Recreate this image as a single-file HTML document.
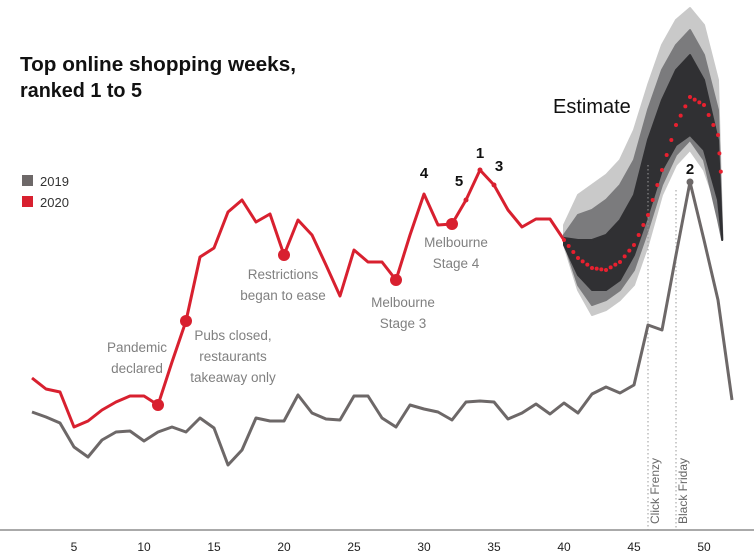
<!DOCTYPE html>
<html><head><meta charset="utf-8"><style>
body{margin:0;background:#fff;font-family:"Liberation Sans",sans-serif}
svg{display:block}
</style></head><body>
<svg id="c" width="754" height="556">
<text x="20" y="71" font-size="20" font-weight="bold" fill="#111" textLength="276" lengthAdjust="spacingAndGlyphs">Top online shopping weeks,</text>
<text x="20" y="97" font-size="20" font-weight="bold" fill="#111" textLength="122" lengthAdjust="spacingAndGlyphs">ranked 1 to 5</text>
<rect x="22" y="175" width="11" height="11" fill="#6d6868"/>
<text x="40" y="186" font-size="13" fill="#333">2019</text>
<rect x="22" y="196" width="11" height="11" fill="#d8202f"/>
<text x="40" y="207" font-size="13" fill="#333">2020</text>
<text x="553" y="113" font-size="20" fill="#111">Estimate</text>
<g id="g"></g>
</svg>
<script>
const weeks2019=[2,3,4,5,6,7,8,9,10,11,12,13,14,15,16,17,18,19,20,21,22,23,24,25,26,27,28,29,30,31,32,33,34,35,36,37,38,39,40,41,42,43,44,45,46,47,48,49,50,51,52];
const values2019=[88,83,77,53,43,60,68,69,59,68,73,68,82,72,35,50,82,79,79,105,87,81,80,104,104,82,73,95,91,88,80,98,99,98,81,87,96,86,97,87,106,113,107,115,175,170,245,318,260,200,100];
const weeks2020=[2,3,4,5,6,7,8,9,10,11,12,13,14,15,16,17,18,19,20,21,22,23,24,25,26,27,28,29,30,31,32,33,34,35,36,37,38,39,40];
const values2020=[122,111,108,73,79,90,98,104,104,95,138,179,243,252,288,300,278,286,245,280,265,235,204,250,238,238,220,265,306,275,276,300,330,315,290,273,281,281,260];
const estWeeks=[40,41,42,43,44,45,46,47,48,49,50,51,51.3];
const estimate=[260,242,232,230,238,255,285,330,375,403,395,365,310];
const outerTop=[275,305,315,325,340,370,415,455,480,492,475,420,270];
const outerBot=[255,210,185,190,200,215,255,305,335,350,330,290,260];
const midTop=[265,285,290,300,315,340,390,430,455,470,445,390,265];
const midBot=[258,215,195,200,210,230,270,315,345,360,340,280,260];
const darkTop=[262,260,260,265,280,305,360,400,430,445,420,360,262];
const darkBot=[255,225,210,210,220,245,285,330,355,365,350,300,260];
const xTicks=[5,10,15,20,25,30,35,40,45,50];
const events=[{w:11,t:["Pandemic","declared"],tx:137,ty:352},{w:13,t:["Pubs closed,","restaurants","takeaway only"],tx:233,ty:340},{w:20,t:["Restrictions","began to ease"],tx:283,ty:279},{w:28,t:["Melbourne","Stage 3"],tx:403,ty:307},{w:32,t:["Melbourne","Stage 4"],tx:456,ty:247}];
const ranks=[{w:30,r:"4",dy:-16},{w:33,r:"5",dy:-14},{w:34,r:"1",dy:-12},{w:35,r:"3",dy:-14}];
const x=w=>74+(w-5)*14, y=v=>500-v;
const g=document.getElementById('g'),NS='http://www.w3.org/2000/svg';
function mk(t,a,name){const e=document.createElementNS(NS,t);for(const k in a)e.setAttribute(k,a[k]);


g.appendChild(e);return e;}
function band(top,bot,fill,name){const p=estWeeks.map((w,i)=>x(w)+','+y(top[i])).concat(estWeeks.map((w,i)=>x(w)+','+y(bot[i])).reverse());mk('polygon',{points:p.join(' '),fill,'stroke':fill,'stroke-linejoin':'round','stroke-width':2},name);}
band(outerTop,outerBot,'#c9c9c9','estimate-band-outer');
band(midTop,midBot,'#7b7b7d','estimate-band-mid');
band(darkTop,darkBot,'#303033','estimate-band-inner');
mk('line',{x1:0,x2:754,y1:530,y2:530,stroke:'#555','stroke-width':1},'x-axis');
xTicks.forEach(t=>{const e=mk('text',{x:x(t),y:551,'font-size':12,'text-anchor':'middle',fill:'#222'},'x-tick-'+t);e.textContent=t;});
[[46,165,'Click Frenzy'],[48,190,'Black Friday']].forEach(([w,top,l])=>{
mk('line',{x1:x(w),x2:x(w),y1:top,y2:530,stroke:'#999','stroke-dasharray':'1.5 2.5'},'event-line');
const e=mk('text',{x:0,y:0,'font-size':12,fill:'#666',transform:`translate(${x(w)+11},524) rotate(-90)`},'event-label');e.textContent=l;});
mk('polyline',{points:weeks2019.map((w,i)=>x(w)+','+y(values2019[i])).join(' '),fill:'none',stroke:'#6d6868','stroke-width':3,'stroke-linejoin':'round'},'line-2019');
mk('polyline',{points:weeks2020.map((w,i)=>x(w)+','+y(values2020[i])).join(' '),fill:'none',stroke:'#d8202f','stroke-width':3,'stroke-linejoin':'round'},'line-2020');
for(let i=0;i<estWeeks.length-1;i++){for(let k=0;k<3;k++){const f=k/3;const w=estWeeks[i]+(estWeeks[i+1]-estWeeks[i])*f;const v=estimate[i]+(estimate[i+1]-estimate[i])*f;
mk('circle',{cx:x(w),cy:y(v),r:2,fill:'#e8202f'},'estimate-dot');}}
mk('circle',{cx:x(49),cy:y(values2019[47]),r:3.5,fill:'#6d6868'},'peak-2019-marker');
const r2=mk('text',{x:x(49),y:y(values2019[47])-8,'font-size':15,'font-weight':'bold','text-anchor':'middle',fill:'#111'},'rank-2');r2.textContent='2';
events.forEach(ev=>{const i=weeks2020.indexOf(ev.w);mk('circle',{cx:x(ev.w),cy:y(values2020[i]),r:6,fill:'#d8202f'},'event-marker');
ev.t.forEach((s,j)=>{const e=mk('text',{x:ev.tx,y:ev.ty+j*21,'font-size':13.5,'text-anchor':'middle',fill:'#808080'},'event-annotation');e.textContent=s;});});
ranks.forEach(r=>{const i=weeks2020.indexOf(r.w);if(r.r!=='4')mk('circle',{cx:x(r.w),cy:y(values2020[i]),r:2.5,fill:'#d8202f'},'rank-marker');
const e=mk('text',{x:x(r.w)-(r.r==='5'?7:0)+(r.r==='3'?5:0),y:y(values2020[i])+r.dy,'font-size':15,'font-weight':'bold','text-anchor':'middle',fill:'#111'},'rank-'+r.r);e.textContent=r.r;});
</script>
</body></html>
